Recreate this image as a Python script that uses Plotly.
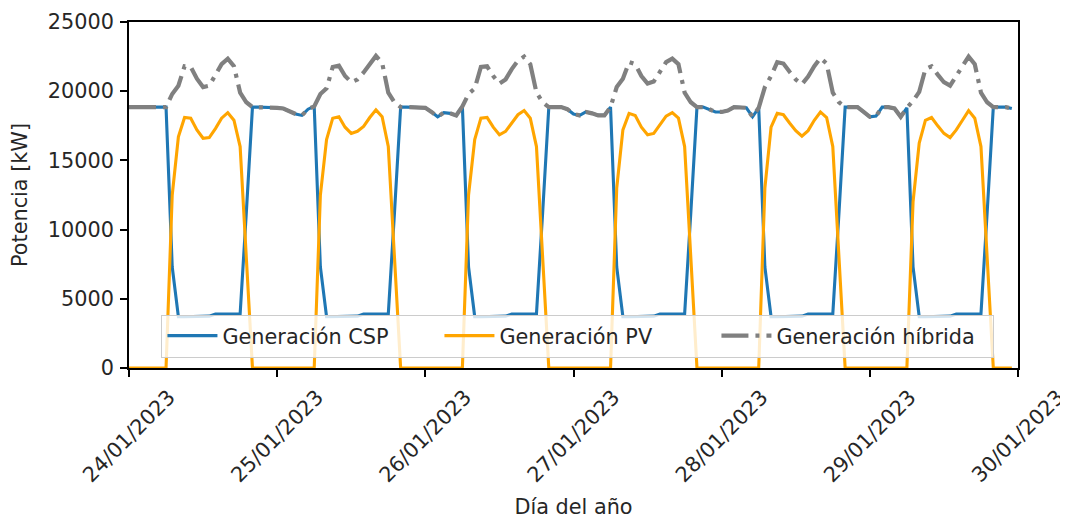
import pandas as pd
import plotly.graph_objects as go

# ---- data (hourly, 24/01/2023 00:00 -> 29/01/2023 23:00) ----
start_time = "2023-01-24 00:00"
n_hours = 144

csp_kw = [
    # 24/01
    18850, 18850, 18850, 18850, 18850, 18850, 18850, 7300, 3700, 3700, 3700, 3700,
    3700, 3750, 3900, 3900, 3900, 3900, 3900, 11200, 18850, 18850, 18850, 18850,
    # 25/01
    18800, 18750, 18550, 18350, 18250, 18700, 18900, 7300, 3700, 3700, 3700, 3700,
    3700, 3750, 3900, 3900, 3900, 3900, 3900, 11200, 18850, 18850, 18850, 18850,
    # 26/01
    18800, 18500, 18150, 18450, 18400, 18250, 18900, 7300, 3700, 3700, 3700, 3700,
    3700, 3750, 3900, 3900, 3900, 3900, 3900, 11200, 18850, 18850, 18850, 18700,
    # 27/01
    18350, 18250, 18500, 18400, 18250, 18250, 18850, 7300, 3700, 3700, 3700, 3700,
    3700, 3750, 3900, 3900, 3900, 3900, 3900, 11200, 18850, 18850, 18700, 18500,
    # 28/01
    18500, 18600, 18850, 18850, 18800, 18150, 18800, 7300, 3700, 3700, 3700, 3700,
    3700, 3750, 3900, 3900, 3900, 3900, 3900, 11200, 18850, 18850, 18850, 18500,
    # 29/01
    18150, 18200, 18850, 18850, 18750, 18150, 18800, 7300, 3700, 3700, 3700, 3700,
    3700, 3750, 3900, 3900, 3900, 3900, 3900, 11200, 18850, 18850, 18850, 18750,
]

pv_kw = [
    # 24/01
    0, 0, 0, 0, 0, 0, 0, 12500, 16700, 18100, 18050, 17200,
    16600, 16650, 17300, 18050, 18450, 17900, 16000, 8000, 0, 0, 0, 0,
    # 25/01
    0, 0, 0, 0, 0, 0, 0, 12500, 16500, 18050, 18150, 17400,
    16950, 17100, 17450, 18100, 18650, 18150, 16000, 8000, 0, 0, 0, 0,
    # 26/01
    0, 0, 0, 0, 0, 0, 0, 12500, 16500, 18050, 18100, 17400,
    16850, 17100, 17700, 18300, 18600, 18050, 16000, 8000, 0, 0, 0, 0,
    # 27/01
    0, 0, 0, 0, 0, 0, 0, 13000, 17200, 18400, 18250, 17400,
    16850, 16950, 17550, 18200, 18450, 18050, 16000, 8000, 0, 0, 0, 0,
    # 28/01
    0, 0, 0, 0, 0, 0, 0, 13000, 17400, 18400, 18300, 17700,
    17150, 16750, 17150, 17900, 18500, 18100, 16000, 8000, 0, 0, 0, 0,
    # 29/01
    0, 0, 0, 0, 0, 0, 0, 12000, 16250, 17900, 18100, 17500,
    16950, 16650, 17200, 17900, 18600, 18050, 16000, 8000, 0, 0, 0, 0,
]

hybrid_kw = [
    # 24/01
    18850, 18850, 18850, 18850, 18850, 18850, 18850, 19800, 20400, 21800, 21750, 20900,
    20300, 20400, 21200, 21950, 22350, 21800, 19900, 19200, 18850, 18850, 18850, 18850,
    # 25/01
    18800, 18750, 18550, 18350, 18250, 18700, 18900, 19800, 20200, 21750, 21850, 21100,
    20650, 20850, 21350, 22000, 22550, 22050, 19900, 19200, 18850, 18850, 18850, 18850,
    # 26/01
    18800, 18500, 18150, 18450, 18400, 18250, 18900, 19800, 20200, 21750, 21800, 21100,
    20550, 20850, 21600, 22200, 22500, 21950, 19900, 19200, 18850, 18850, 18850, 18700,
    # 27/01
    18350, 18250, 18500, 18400, 18250, 18250, 18850, 20300, 20900, 22100, 21950, 21100,
    20550, 20700, 21450, 22100, 22350, 21950, 19900, 19200, 18850, 18850, 18700, 18500,
    # 28/01
    18500, 18600, 18850, 18850, 18800, 18150, 18800, 20300, 21100, 22100, 22000, 21400,
    20850, 20500, 21050, 21800, 22400, 22000, 19900, 19200, 18850, 18850, 18850, 18500,
    # 29/01
    18150, 18200, 18850, 18850, 18750, 18150, 18800, 19300, 19950, 21600, 21800, 21200,
    20650, 20400, 21100, 21800, 22500, 21950, 19900, 19200, 18850, 18850, 18850, 18750,
]

tick_dates = ["2023-01-24", "2023-01-25", "2023-01-26", "2023-01-27",
              "2023-01-28", "2023-01-29", "2023-01-30"]
tick_labels = ["24/01/2023", "25/01/2023", "26/01/2023", "27/01/2023",
               "28/01/2023", "29/01/2023", "30/01/2023"]
y_ticks = [0, 5000, 10000, 15000, 20000, 25000]

series_names = ["Generación CSP", "Generación PV", "Generación híbrida"]

times = pd.date_range(start_time, periods=n_hours, freq="h")

FONT = "DejaVu Sans"
FS = 20.8
TXT = "#262626"

fig = go.Figure()
fig.add_trace(go.Scatter(x=times, y=csp_kw, mode="lines", name=series_names[0],
                         line=dict(color="#1f77b4", width=3.1)))
fig.add_trace(go.Scatter(x=times, y=pv_kw, mode="lines", name=series_names[1],
                         line=dict(color="#FFA500", width=3.1)))
fig.add_trace(go.Scatter(x=times, y=hybrid_kw, mode="lines", name=series_names[2],
                         line=dict(color="#808080", width=4.2, dash="27px,7px,4px,7px")))

# page body has an 8px margin: figure is sized/margined to compensate
fig.update_layout(
    width=1060, height=511,
    margin=dict(l=121, r=50, t=14, b=151, autoexpand=False),
    paper_bgcolor="white", plot_bgcolor="white",
    font=dict(family=FONT, size=FS, color=TXT),
    showlegend=True,
    legend=dict(
        orientation="h", x=0.505, xanchor="center", y=0.03, yanchor="bottom",
        bgcolor="rgba(255,255,255,0.8)", bordercolor="#cccccc", borderwidth=1,
        font=dict(family=FONT, size=FS, color=TXT),
        itemwidth=50, entrywidth=212, entrywidthmode="pixels",
    ),
)

fig.update_xaxes(
    type="date", range=[tick_dates[0], tick_dates[-1]],
    tickmode="array", tickvals=tick_dates, ticktext=tick_labels,
    tickangle=-45, ticks="outside", ticklen=7, tickwidth=1.6, tickcolor="black",
    ticklabelshift=40, ticklabelstandoff=0, ticklabeloverflow="allow",
    showline=True, linecolor="black", linewidth=1.6, mirror=True,
    showgrid=False, zeroline=False,
    title=dict(text="Día del año", font=dict(family=FONT, size=FS, color=TXT), standoff=14),
    tickfont=dict(family=FONT, size=FS, color=TXT),
    automargin=False,
)
fig.update_yaxes(
    range=[0, 25000], tickmode="array", tickvals=y_ticks,
    ticktext=[str(v) for v in y_ticks],
    ticks="outside", ticklen=7, tickwidth=1.6, tickcolor="black",
    ticklabelstandoff=2,
    showline=True, linecolor="black", linewidth=1.6, mirror=True,
    showgrid=False, zeroline=False,
    title=dict(text="Potencia [kW]", font=dict(family=FONT, size=FS, color=TXT), standoff=16),
    tickfont=dict(family=FONT, size=FS, color=TXT),
    automargin=False,
)

fig.write_html("out.html")
